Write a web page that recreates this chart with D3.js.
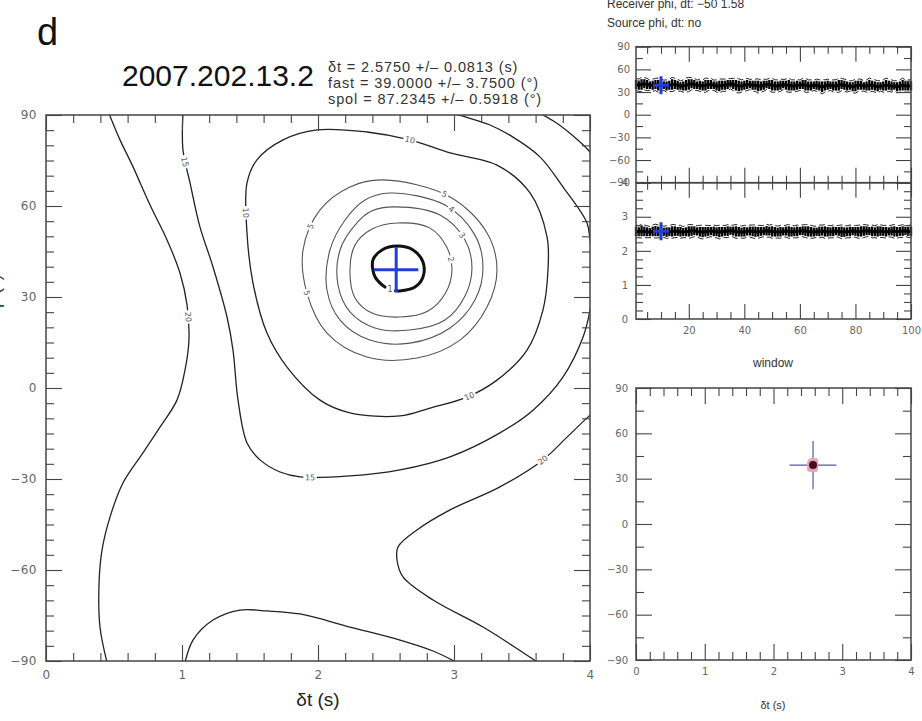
<!DOCTYPE html>
<html>
<head>
<meta charset="utf-8">
<script src="https://cdn.jsdelivr.net/npm/d3@7"></script>
<style>
  html, body { margin: 0; padding: 0; background: #fff; }
  svg { display: block; }
</style>
</head>
<body>
<svg id="fig" width="922" height="721"></svg>
<script>
// ---------------------------------------------------------------
// Splitting measurement: event 2007.202.13.2
// ---------------------------------------------------------------
const eventName = "2007.202.13.2";
const resultDt = 2.5750, resultDtErr = 0.0813;
const resultPhi = 39.0000, resultPhiErr = 3.7500;
const resultSpol = 87.2345, resultSpolErr = 0.5918;
const bestWindow = 10;

// Error-surface contours, each as [δt (s), φ (°)] vertices
const contour1 = [[2.500,33.0],[2.420,36.6],[2.404,42.2],[2.471,45.5],[2.581,46.8],[2.699,45.5],[2.772,41.5],[2.772,36.6],[2.713,33.3],[2.600,32.0],[2.560,32.1]];
const contour2 = [[2.588,54.4],[2.824,52.7],[2.949,46.2],[2.985,38.9],[2.941,31.6],[2.809,25.4],[2.603,23.4],[2.397,24.7],[2.272,29.7],[2.235,38.9],[2.272,47.1],[2.397,52.4]];
const contour3 = [[2.566,59.7],[2.897,57.0],[3.081,48.8],[3.132,39.6],[3.081,30.3],[2.934,22.4],[2.676,19.1],[2.419,19.8],[2.235,25.1],[2.147,34.0],[2.162,45.5],[2.272,53.7],[2.397,58.4]];
const contour4 = [[2.529,64.3],[2.934,60.3],[3.154,50.4],[3.213,39.6],[3.154,29.0],[2.971,19.8],[2.676,14.8],[2.382,15.8],[2.162,22.4],[2.066,32.3],[2.088,45.5],[2.199,55.4],[2.346,62.0]];
const contour5 = [[2.478,68.6],[2.971,63.0],[3.243,51.1],[3.316,38.9],[3.243,26.7],[3.044,15.8],[2.728,9.9],[2.360,10.2],[2.066,18.1],[1.919,31.3],[1.890,45.5],[2.015,58.7],[2.235,66.3]];
const contour10 = [[1.478,67.6],[1.551,75.2],[1.743,81.8],[1.993,85.1],[2.360,84.4],[2.676,81.8],[2.971,77.5],[3.316,73.5],[3.559,64.3],[3.684,49.8],[3.691,38.9],[3.654,25.7],[3.537,12.5],[3.316,2.6],[3.096,-3.0],[2.824,-6.6],[2.603,-9.2],[2.235,-8.2],[2.015,-4.0],[1.772,6.9],[1.625,18.1],[1.522,34.6],[1.478,51.1]];
const contour15 = [[1.007,90.5],[1.007,78.5],[1.059,67.6],[1.132,53.1],[1.228,39.9],[1.331,23.4],[1.375,12.5],[1.412,-4.0],[1.478,-18.1],[1.574,-23.7],[1.721,-27.7],[1.868,-29.3],[2.235,-29.0],[2.603,-27.0],[2.971,-22.7],[3.338,-14.8],[3.581,-7.3],[3.801,3.6],[3.949,16.8],[4.0,25.7],[4.03,37.3],[4.0,48.8],[3.978,54.4],[3.801,66.3],[3.632,76.2],[3.434,82.7],[3.265,86.7],[3.066,89.6],[3.0,90.5]];
const contour15Low = [[1.022,-90.5],[1.081,-83.1],[1.228,-76.5],[1.426,-73.2],[1.625,-73.5],[1.868,-74.5],[2.235,-78.8],[2.603,-83.1],[2.846,-86.7],[3.022,-90.5]];
const contour20Left = [[0.463,90.5],[0.544,81.8],[0.640,72.9],[0.765,60.3],[0.890,48.8],[0.985,37.9],[1.037,27.4],[1.051,15.8],[1.022,5.9],[0.963,-4.0],[0.838,-12.9],[0.713,-21.4],[0.566,-31.3],[0.471,-42.5],[0.412,-53.4],[0.390,-64.3],[0.397,-78.8],[0.449,-90.5]];
const contour20Corner = [[3.632,90.5],[3.743,87.7],[3.868,83.4],[4.0,77.8],[4.05,74.5]];
const contour20Right = [[4.03,-8.0],[3.985,-9.6],[3.831,-16.2],[3.654,-23.7],[3.338,-32.6],[2.971,-40.2],[2.728,-46.8],[2.588,-52.4],[2.581,-56.7],[2.625,-62.3],[2.846,-69.9],[3.213,-78.8],[3.618,-90.5]];

// Contour labels: text, δt, φ (placed on the nearest contour point)
const contourLabels = [
  ["15", 1.022, 74.5], ["20", 1.037, 23.4],
  ["10", 1.463, 57.7], ["10", 2.676, 81.8], ["10", 3.103, -1.6],
  ["15", 1.941, -29.7], ["20", 3.654, -23.7],
  ["5", 2.919, 63.0], ["4", 2.949, 57.0], ["3", 3.007, 48.8], ["2", 2.949, 42.2],
  ["5", 1.978, 52.7], ["5", 1.919, 31.3]
];

// Per-window results (windows 1..100)
const windows = d3.range(1, 101);
const phiWin = [40,39,40,41,40,39,39,40,39,39, 39,38,39,40,40,39,38,38,39,40,
                41,40,39,39,38,39,40,40,39,38, 38,39,39,40,41,40,39,38,38,39,
                40,40,39,39,38,38,39,40,40,39, 38,38,39,40,39,39,38,38,39,39,
                40,39,38,38,39,39,38,37,38,39, 39,38,38,39,40,39,38,38,37,38,
                39,39,38,38,39,39,38,37,38,38, 39,39,38,38,37,38,39,38,38,38];
const phiWinErr = [6,6,7,6,6,5,6,6,7,6, 5,6,6,7,6,6,5,6,7,7, 6,6,5,6,6,7,6,6,5,6,
                   7,6,6,6,5,6,7,7,6,6, 6,5,6,6,7,6,6,5,6,7, 6,6,6,5,6,7,6,6,6,5,
                   6,7,6,6,5,6,6,7,6,6, 5,6,6,7,6,6,6,5,6,7, 6,6,5,6,7,6,6,6,5,6,
                   7,6,6,5,6,6,7,6,6,6];
const dtWin = [2.57,2.56,2.58,2.57,2.56,2.55,2.57,2.58,2.57,2.575, 2.56,2.55,2.56,2.57,2.58,2.57,2.56,2.55,2.56,2.57,
               2.58,2.59,2.57,2.56,2.55,2.56,2.57,2.58,2.57,2.56, 2.55,2.56,2.57,2.58,2.59,2.58,2.57,2.56,2.55,2.56,
               2.57,2.58,2.57,2.56,2.56,2.57,2.58,2.59,2.58,2.57, 2.56,2.55,2.56,2.57,2.58,2.57,2.56,2.56,2.57,2.58,
               2.59,2.58,2.57,2.56,2.55,2.56,2.57,2.58,2.57,2.56, 2.56,2.57,2.58,2.57,2.56,2.55,2.56,2.57,2.58,2.57,
               2.56,2.57,2.58,2.59,2.58,2.57,2.56,2.57,2.58,2.57, 2.56,2.57,2.58,2.57,2.56,2.57,2.58,2.58,2.57,2.57];
const dtWinErr = [0.14,0.13,0.15,0.14,0.13,0.12,0.14,0.15,0.14,0.13, 0.12,0.14,0.13,0.15,0.14,0.13,0.14,0.12,0.13,0.15,
                  0.14,0.13,0.12,0.14,0.15,0.14,0.13,0.12,0.14,0.13, 0.15,0.14,0.13,0.14,0.12,0.13,0.15,0.14,0.13,0.14,
                  0.12,0.13,0.14,0.15,0.14,0.13,0.12,0.14,0.13,0.15, 0.14,0.13,0.14,0.12,0.13,0.15,0.14,0.13,0.14,0.12,
                  0.13,0.14,0.15,0.14,0.13,0.12,0.14,0.13,0.15,0.14, 0.13,0.14,0.12,0.13,0.15,0.14,0.13,0.14,0.12,0.13,
                  0.14,0.15,0.14,0.13,0.12,0.14,0.13,0.15,0.14,0.13, 0.14,0.12,0.13,0.15,0.14,0.13,0.14,0.12,0.13,0.14];

// Spread of the cluster result in the δt–φ panel
const clusterDtSpread = 0.34, clusterPhiSpread = 16;

// Tick values
const dtMajor = [0, 1, 2, 3, 4];
const dtMinor = d3.range(0, 4.001, 0.2).filter(v => Math.abs(v - Math.round(v)) > 1e-6);
const phiMajor = [-90, -60, -30, 0, 30, 60, 90];
const phiMinorMain = d3.range(-85, 90, 5).filter(v => v % 30 !== 0);
const phiMinorSmall = [-75, -45, -15, 15, 45, 75];
const winMajor = [20, 40, 60, 80, 100];
const winMinor = d3.range(5, 100, 5).filter(v => v % 20 !== 0);
const dtPanelMajor = [0, 1, 2, 3, 4];
const dtPanelMinor = d3.range(0.25, 4, 0.25).filter(v => v % 1 !== 0);

// ---------------------------------------------------------------
const svg = d3.select("#fig");
const SANS = "'Liberation Sans', Arial, sans-serif";
const TICKFONT = "'DejaVu Sans', sans-serif";
const axisColor = "#444";
const labelColor = "#666";

// Draws inward-pointing ticks (major+minor) on all four sides of a box
function boxTicks(g, xs, ys, spec) {
  const [x0, x1] = xs.range(), [y0, y1] = [ys.range()[1], ys.range()[0]];
  const put = (axisFn, scale, values, size, tr, fmt) => {
    const ax = axisFn(scale).tickValues(values).tickSize(-size).tickPadding(spec.pad || 6)
      .tickFormat(fmt || (() => ""));
    const s = g.append("g").attr("transform", tr).call(ax);
    s.select(".domain").remove();
    s.selectAll("line").attr("stroke", axisColor).attr("stroke-width", 1.1);
    s.selectAll("text").attr("fill", labelColor).style("font-family", TICKFONT)
      .style("font-size", (spec.fs || 11) + "px").style("letter-spacing", (spec.ls || 0) + "px");
  };
  const M = spec.major, m = spec.minor;
  put(d3.axisBottom, xs, spec.xMajor, M, `translate(0,${y1})`, spec.xLabels ? spec.xFmt : null);
  put(d3.axisBottom, xs, spec.xMinor, m, `translate(0,${y1})`);
  put(d3.axisTop, xs, spec.xMajor, M, `translate(0,${y0})`);
  put(d3.axisTop, xs, spec.xMinor, m, `translate(0,${y0})`);
  put(d3.axisLeft, ys, spec.yMajor, M, `translate(${x0},0)`, spec.yFmt);
  put(d3.axisLeft, ys, spec.yMinor, m, `translate(${x0},0)`);
  put(d3.axisRight, ys, spec.yMajor, M, `translate(${x1},0)`);
  put(d3.axisRight, ys, spec.yMinor, m, `translate(${x1},0)`);
  g.append("rect").attr("x", x0).attr("y", y0).attr("width", x1 - x0).attr("height", y1 - y0)
    .attr("fill", "none").attr("stroke", axisColor).attr("stroke-width", 1.5);
}

const fmtInt = d3.format("d");

// ---------------- Panel letter, title, statistics ----------------
svg.append("text").attr("x", 37).attr("y", 45).text("d")
  .style("font-family", SANS).style("font-size", "38px").attr("fill", "#111");

svg.append("text").attr("x", 122).attr("y", 86).text(eventName)
  .style("font-family", SANS).style("font-size", "30px").attr("fill", "#111");

const stats = [
  `δt = ${resultDt.toFixed(4)} +/– ${resultDtErr.toFixed(4)} (s)`,
  `fast = ${resultPhi.toFixed(4)} +/– ${resultPhiErr.toFixed(4)} (°)`,
  `spol = ${resultSpol.toFixed(4)} +/– ${resultSpolErr.toFixed(4)} (°)`
];
svg.append("g").selectAll("text").data(stats).join("text")
  .attr("x", 328).attr("y", (d, i) => 72 + i * 16).text(d => d)
  .style("font-family", SANS).style("font-size", "14.5px").attr("fill", "#333")
  .style("letter-spacing", "0.9px");

svg.append("g").selectAll("text")
  .data(["Receiver phi, dt: −50 1.58", "Source phi, dt: no"]).join("text")
  .attr("x", 607).attr("y", (d, i) => 8 + i * 19).text(d => d)
  .style("font-family", SANS).style("font-size", "12px").attr("fill", "#333");

// ---------------- Main error-surface panel ----------------
const X = d3.scaleLinear().domain([0, 4]).range([46, 590]);
const Y = d3.scaleLinear().domain([-90, 90]).range([661, 115]);
const main = svg.append("g");

svg.append("defs").append("clipPath").attr("id", "mainClip")
  .append("rect").attr("x", 46).attr("y", 115).attr("width", 544).attr("height", 546);

const contourTable = [
  { level: 20, pts: contour20Left, closed: false },
  { level: 20, pts: contour20Corner, closed: false },
  { level: 20, pts: contour20Right, closed: false },
  { level: 15, pts: contour15, closed: false },
  { level: 15, pts: contour15Low, closed: false },
  { level: 10, pts: contour10, closed: true },
  { level: 5, pts: contour5, closed: true },
  { level: 4, pts: contour4, closed: true },
  { level: 3, pts: contour3, closed: true },
  { level: 2, pts: contour2, closed: true },
  { level: 1, pts: contour1, closed: false }
];
const lineOpen = d3.line().x(d => X(d[0])).y(d => Y(d[1])).curve(d3.curveCatmullRom.alpha(0.5));
const lineClosed = d3.line().x(d => X(d[0])).y(d => Y(d[1])).curve(d3.curveCatmullRomClosed.alpha(0.5));

const cg = main.append("g").attr("clip-path", "url(#mainClip)");
const contourPaths = cg.selectAll("path").data(contourTable).join("path")
  .attr("d", d => (d.closed ? lineClosed : lineOpen)(d.pts))
  .attr("fill", "none")
  .attr("stroke", d => d.level === 1 ? "#111" : (d.level <= 5 ? "#555" : "#222"))
  .attr("stroke-width", d => d.level === 1 ? 3 : (d.level <= 5 ? 1.1 : 1.3));

// contour labels: white gap + small rotated text along the line
const lg = main.append("g");
const pathNodes = contourPaths.nodes();
contourLabels.forEach(([txt, dt, ph]) => {
  const px = X(dt), py = Y(ph);
  let best = null;
  contourTable.forEach((c, ci) => {
    if (String(c.level) !== txt) return;
    const node = pathNodes[ci], L = node.getTotalLength();
    for (let l = 0; l <= L; l += 0.5) {
      const p = node.getPointAtLength(l);
      const d2 = (p.x - px) ** 2 + (p.y - py) ** 2;
      if (!best || d2 < best.d2) best = { d2, l, node, L };
    }
  });
  if (!best) return;
  const pc = best.node.getPointAtLength(best.l);
  const a = best.node.getPointAtLength(Math.max(0, best.l - 3));
  const b = best.node.getPointAtLength(Math.min(best.L, best.l + 3));
  let ang = Math.atan2(b.y - a.y, b.x - a.x) * 180 / Math.PI;
  if (ang > 90) ang -= 180;
  if (ang < -90) ang += 180;
  const g = lg.append("g").attr("transform", `translate(${pc.x},${pc.y}) rotate(${ang})`);
  const w = txt.length * 5.2 + 3;
  g.append("rect").attr("x", -w / 2).attr("y", -4).attr("width", w).attr("height", 8).attr("fill", "#fff");
  g.append("text").attr("text-anchor", "middle").attr("dy", "0.35em").text(txt)
    .style("font-family", TICKFONT).style("font-size", "8px").attr("fill", "#555");
});
// level label of the innermost contour sits in its gap
main.append("text").attr("x", X(2.53)).attr("y", Y(31.6)).attr("text-anchor", "middle").text("1")
  .style("font-family", TICKFONT).style("font-size", "8px").attr("fill", "#555");

// best-fit cross (±2σ)
const cross = main.append("g").attr("stroke", "#1f3fd6").attr("stroke-width", 3);
cross.append("line").attr("x1", X(resultDt - 2 * resultDtErr)).attr("x2", X(resultDt + 2 * resultDtErr))
  .attr("y1", Y(resultPhi)).attr("y2", Y(resultPhi));
cross.append("line").attr("x1", X(resultDt)).attr("x2", X(resultDt))
  .attr("y1", Y(resultPhi - 2 * resultPhiErr)).attr("y2", Y(resultPhi + 2 * resultPhiErr));

boxTicks(main, X, Y, {
  major: 16, minor: 8, pad: 9, fs: 12, ls: 0.5,
  xMajor: dtMajor, xMinor: dtMinor, xLabels: true, xFmt: fmtInt,
  yMajor: phiMajor, yMinor: phiMinorMain, yFmt: fmtInt
});

svg.append("text").attr("x", X(2)).attr("y", 706).attr("text-anchor", "middle").text("δt (s)")
  .style("font-family", SANS).style("font-size", "19px").attr("fill", "#222");
svg.append("text").attr("transform", `translate(0,${Y(0) - 95}) rotate(-90)`).attr("text-anchor", "middle")
  .text("φ (°)").style("font-family", SANS).style("font-size", "19px").attr("fill", "#444");

// ---------------- Window panels ----------------
const XW = d3.scaleLinear().domain([1, 100]).range([636, 911]);
const YP = d3.scaleLinear().domain([-90, 90]).range([182.7, 46.7]);
const YD = d3.scaleLinear().domain([0, 4]).range([319, 182.7]);

function windowBand(g, vals, errs, ys) {
  const bars = g.append("g").attr("stroke", "#000").attr("stroke-width", 2.3);
  windows.forEach((w, i) => {
    bars.append("line").attr("x1", XW(w)).attr("x2", XW(w))
      .attr("y1", ys(vals[i] - errs[i])).attr("y2", ys(vals[i] + errs[i]));
  });
  const ln = (f) => d3.line().x(w => XW(w)).y((w, i) => ys(f(i)));
  [1.35, -1.35].forEach(k => {
    g.append("path").attr("d", ln(i => vals[i] + k * errs[i])(windows)).attr("fill", "none")
      .attr("stroke", "#222").attr("stroke-width", 1).attr("stroke-dasharray", "6,3");
  });
  g.append("path").attr("d", ln(i => vals[i])(windows)).attr("fill", "none")
    .attr("stroke", "#000").attr("stroke-width", 3);
}
function bluePlus(g, cx, cy) {
  const p = g.append("g").attr("stroke", "#1f3fd6").attr("stroke-width", 3);
  p.append("line").attr("x1", cx - 8).attr("x2", cx + 8).attr("y1", cy).attr("y2", cy);
  p.append("line").attr("x1", cx).attr("x2", cx).attr("y1", cy - 9).attr("y2", cy + 9);
}

const p1 = svg.append("g");
windowBand(p1, phiWin, phiWinErr, YP);
bluePlus(p1, XW(bestWindow), YP(resultPhi));
boxTicks(p1, XW, YP, {
  major: 15, minor: 7, pad: 6, fs: 10,
  xMajor: winMajor, xMinor: winMinor, xLabels: false,
  yMajor: phiMajor, yMinor: phiMinorSmall, yFmt: fmtInt
});

const p2 = svg.append("g");
windowBand(p2, dtWin, dtWinErr, YD);
bluePlus(p2, XW(bestWindow), YD(resultDt));
boxTicks(p2, XW, YD, {
  major: 15, minor: 7, pad: 8, fs: 10,
  xMajor: winMajor, xMinor: winMinor, xLabels: true, xFmt: fmtInt,
  yMajor: dtPanelMajor, yMinor: dtPanelMinor, yFmt: fmtInt
});
svg.append("text").attr("x", 773).attr("y", 367).attr("text-anchor", "middle").text("window")
  .style("font-family", SANS).style("font-size", "12px").attr("fill", "#333");

// ---------------- δt–φ cluster panel ----------------
const X3 = d3.scaleLinear().domain([0, 4]).range([636, 911]);
const Y3 = d3.scaleLinear().domain([-90, 90]).range([660, 388]);
const p3 = svg.append("g");
const cl = p3.append("g").attr("stroke", "#3a3f8f").attr("stroke-width", 1.2).attr("opacity", 0.85);
cl.append("line").attr("x1", X3(resultDt - clusterDtSpread)).attr("x2", X3(resultDt + clusterDtSpread))
  .attr("y1", Y3(resultPhi)).attr("y2", Y3(resultPhi));
cl.append("line").attr("x1", X3(resultDt)).attr("x2", X3(resultDt))
  .attr("y1", Y3(resultPhi - clusterPhiSpread)).attr("y2", Y3(resultPhi + clusterPhiSpread));
p3.append("g").selectAll("rect").data(windows).join("rect")
  .attr("x", (w, i) => X3(dtWin[i]) - 4).attr("y", (w, i) => Y3(phiWin[i]) - 4)
  .attr("width", 8).attr("height", 8).attr("fill", "#e7a3b8").attr("opacity", 0.35);
p3.append("circle").attr("cx", X3(resultDt)).attr("cy", Y3(resultPhi)).attr("r", 4).attr("fill", "#4a0a1e");
boxTicks(p3, X3, Y3, {
  major: 16, minor: 8, pad: 8, fs: 10,
  xMajor: dtMajor, xMinor: dtMinor, xLabels: true, xFmt: fmtInt,
  yMajor: phiMajor, yMinor: phiMinorSmall, yFmt: fmtInt
});
svg.append("text").attr("x", 773).attr("y", 709).attr("text-anchor", "middle").text("δt (s)")
  .style("font-family", SANS).style("font-size", "11px").attr("fill", "#333");
</script>
</body>
</html>
